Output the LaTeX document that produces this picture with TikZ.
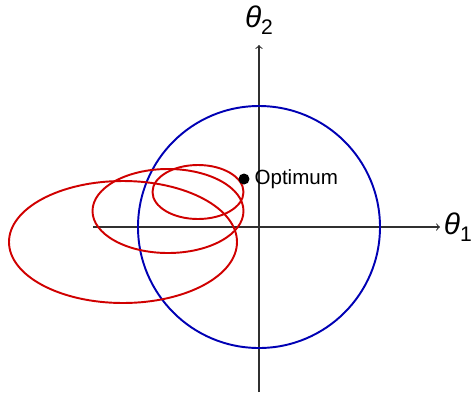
\documentclass[tikz,border=0pt]{standalone}
\usepackage{fontspec}
\setmainfont{Liberation Sans}
\usepackage{tikz}
\usepackage{xcolor}
\definecolor{c1}{HTML}{0000B4}
\definecolor{c2}{HTML}{D00000}
\definecolor{c3}{HTML}{303030}

\begin{document}
\begin{tikzpicture}
  \useasboundingbox (-5.18,-3.3) rectangle (4.32,4.54);
  % Axes
  \coordinate (xl) at (-3.32,0);
  \coordinate (xr) at (3.62,0);
  \coordinate (yb) at (0,-3.3);
  \coordinate (yt) at (0,3.64);
  \draw[c3, line width=0.6pt, ->] (xl) -- (xr);
  \draw[c3, line width=0.6pt, ->] (yb) -- (yt);
  \node[font=\fontsize{17}{20}\selectfont, anchor=west, inner sep=2pt] (t1) at (xr) {\textit{θ}\raisebox{-0.45ex}{\fontsize{12}{14}\selectfont 1}};
  \node[font=\fontsize{17}{20}\selectfont] (t2) at (0,4.14) {\textit{θ}\raisebox{-0.45ex}{\fontsize{12}{14}\selectfont 2}};
  % Constraint region
  \draw[c1, line width=1.1pt] (0,0) circle (2.42);
  % Loss contours
  \draw[c2, line width=1.1pt] (-2.72,-0.30) ellipse (2.28 and 1.22);
  \draw[c2, line width=1.1pt] (-1.82,0.32) ellipse (1.51 and 0.84);
  \draw[c2, line width=1.1pt] (-1.22,0.70) ellipse (0.91 and 0.54);
  % Optimum
  \node[circle, fill=black, inner sep=0pt, minimum size=0.22cm] (opt) at (-0.30,0.96) {};
  \node[font=\fontsize{11.7}{14}\selectfont, anchor=west, inner sep=2.5pt] (optl) at (opt.east) {Optimum};
\end{tikzpicture}
\end{document}
